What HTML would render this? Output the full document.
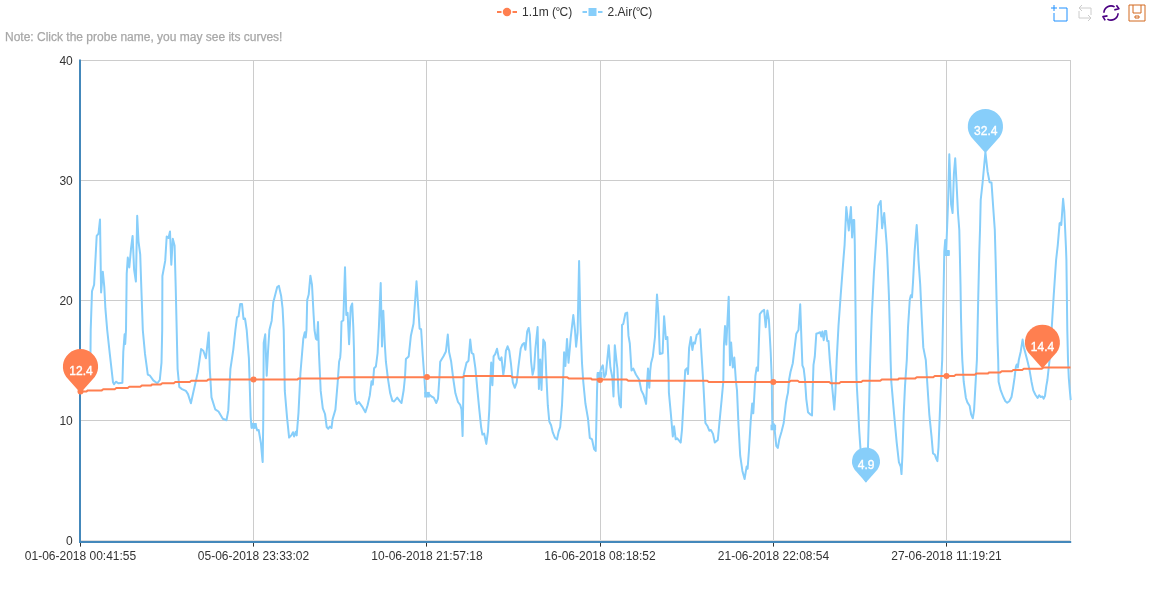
<!DOCTYPE html>
<html><head><meta charset="utf-8"><title>Chart</title>
<style>html,body{margin:0;padding:0;background:#fff;width:1150px;height:600px;overflow:hidden}</style></head>
<body>
<svg width="1150" height="600" viewBox="0 0 1150 600" style="position:absolute;left:0;top:0;font-family:'Liberation Sans',Arial,sans-serif;font-size:12px">
<rect x="80" y="60" width="991" height="1" fill="#ccc"/>
<rect x="80" y="180" width="991" height="1" fill="#ccc"/>
<rect x="80" y="300" width="991" height="1" fill="#ccc"/>
<rect x="80" y="420" width="991" height="1" fill="#ccc"/>
<rect x="253" y="60" width="1" height="481" fill="#ccc"/>
<rect x="426" y="60" width="1" height="481" fill="#ccc"/>
<rect x="600" y="60" width="1" height="481" fill="#ccc"/>
<rect x="773" y="60" width="1" height="481" fill="#ccc"/>
<rect x="946" y="60" width="1" height="481" fill="#ccc"/>
<rect x="1070" y="60" width="1" height="481" fill="#ccc"/>
<rect x="80" y="540" width="991" height="1" fill="#ddd"/>
<rect x="79" y="59.5" width="2" height="483.5" fill="#4488bb"/>
<rect x="79" y="541" width="992.2" height="2" fill="#4488bb"/>
<rect x="80" y="543" width="1" height="3.6" fill="#333"/>
<rect x="253" y="543" width="1" height="3.6" fill="#333"/>
<rect x="426" y="543" width="1" height="3.6" fill="#333"/>
<rect x="600" y="543" width="1" height="3.6" fill="#333"/>
<rect x="773" y="543" width="1" height="3.6" fill="#333"/>
<rect x="946" y="543" width="1" height="3.6" fill="#333"/>
<text x="72.8" y="64.8" text-anchor="end" fill="#333">40</text>
<text x="72.8" y="184.8" text-anchor="end" fill="#333">30</text>
<text x="72.8" y="304.8" text-anchor="end" fill="#333">20</text>
<text x="72.8" y="424.8" text-anchor="end" fill="#333">10</text>
<text x="72.8" y="544.8" text-anchor="end" fill="#333">0</text>
<text x="80.5" y="560" text-anchor="middle" fill="#333">01-06-2018 00:41:55</text>
<text x="253.5" y="560" text-anchor="middle" fill="#333">05-06-2018 23:33:02</text>
<text x="427" y="560" text-anchor="middle" fill="#333">10-06-2018 21:57:18</text>
<text x="600" y="560" text-anchor="middle" fill="#333">16-06-2018 08:18:52</text>
<text x="773.5" y="560" text-anchor="middle" fill="#333">21-06-2018 22:08:54</text>
<text x="946.5" y="560" text-anchor="middle" fill="#333">27-06-2018 11:19:21</text>
<polyline points="80.5,386 89.5,372 90.5,351 90.7,330 92,291.3 94.1,284.8 96.7,235.9 98.5,233.7 100,219.6 101.1,292.4 102.8,271.7 104.3,287 105.4,308.7 107.2,330 109.8,353.9 113,382.2 114.1,384.3 115.9,381.7 118.5,383.3 122.4,382.8 123.3,351.7 124.6,334.3 125.2,344 126,330 126.7,273.9 127.8,257.6 129.3,267.4 131.1,247.8 132.6,235.9 134.1,269.6 135.9,281.5 137.2,215.7 138.5,241.3 140.2,254.3 141.3,287 142.8,330 145,353.9 147.8,374.6 150,375.7 153.3,380.4 157.2,383.3 159.8,380 161.5,362.6 162.2,330 162.4,276 165.2,260.9 166.7,236.5 168.5,238 170,231.5 171.3,264.8 172.8,238.7 174.6,245.7 175.7,287 176.7,330 177.6,369.1 179.3,387 182,389.1 185.9,390.9 188,394.1 190.9,403.3 194.1,388.7 197.8,372.4 201.1,349.1 203.3,350.7 205.9,358.3 208.7,332.6 209.8,369.1 211.5,397.4 215.2,409.3 218.5,411.5 222.8,418.7 226.5,420.2 228.3,410.4 230.4,369.1 233.3,349.6 235.4,330 237,317.4 238.5,316.3 240.2,303.9 242,303.9 243.5,319 245,318.5 246.7,330 248.9,358.3 250.7,417 251.5,427.8 252.8,423.9 254.3,427.8 255.4,423.9 257.2,430.4 258.7,430 260.9,443 262.4,460 262.7,462 263.3,417 263.7,343 265.2,334.3 266.7,375.7 268,351.7 269.4,330 271.7,320.7 273.3,302.2 277.2,287 278.9,285.9 281.1,295.7 282.6,308.7 283.7,330 284.8,390.9 287,417 289.1,437.6 291.3,435.4 293,432.2 294.1,436.5 295.7,431.7 296.7,435.4 298.5,412.6 300.4,373.5 303.3,338.7 304.8,332.2 305.7,337.6 306.5,330 307.2,300 308.7,294.6 310.4,275.7 312,284.8 313.5,313 314.5,330 315.9,338.7 317,339.8 318,322 318.9,351.7 320.7,390.9 322.8,408.3 325,414 326.7,427 328.3,428.7 329.8,426.5 331.5,428 332.6,419.3 335.4,409.6 337.6,383.5 339.1,361.7 340.2,357.4 340.7,350.9 341.5,321.5 343.3,320.4 345,267.2 346.3,315 347.6,312.8 349.1,344.3 350.7,307.4 352.2,303.5 353.3,327 354,350 354.6,390 355.4,399.8 356.7,404.1 358.9,402 362,406.3 365.4,412.2 367.6,405.2 369.8,395.4 371.5,381.3 372.8,384.6 374.1,368.3 375.9,366.5 377.6,353 378.9,327 380.7,283 382,346.5 383.3,310.7 384.8,344.3 385.9,361.7 388,379.1 390.2,393.3 392.4,400.9 394.1,401.5 397.2,397.6 400,401.3 401.5,403 403.7,390 405,377 405.9,359.1 408.7,356.5 410.9,335.7 413.5,323.7 416.5,281.3 419.6,328.7 421.1,329.1 422.8,356 424.6,381.3 425.4,393.3 427,395 429.3,394.5 431.5,396.5 433.7,397.6 436.3,403 438,398.7 439.3,379.1 440.2,361.7 443.5,356.3 445.9,351.5 447.8,334.6 449.1,352 451.1,361.2 453.3,379.1 455.4,393.3 458,402 460.2,404.8 461.5,409.6 462.6,436.1 463.7,374.8 466.5,362.8 468.5,360.7 470.2,339.6 471.7,353 473.4,354.1 475.4,368.3 477.2,387.8 479.3,409.6 481.1,427 482.4,434.6 484.1,433.5 486.3,443.9 488,431.3 489.3,409.6 490.2,383.5 491.2,362.5 492.4,385.2 493.6,356.3 495.2,354.1 497,348.7 498.9,358.5 500.2,360.2 501.5,357.4 503.3,374.8 504.6,366.1 505.9,350.9 507.6,346.3 509.3,350.9 511,364 512.8,382.4 514.8,387.8 516.7,382.4 518.5,366.1 520.7,348.7 522.4,344.5 524.1,343 525.4,349.8 527.2,331.3 528.7,328 529.8,334.6 531.1,361.7 532.6,374.8 534.1,368.3 535.4,348.7 537.6,327 538.9,388.9 540.2,359.6 541.5,390 542.4,361.7 543.3,339.6 545,342.8 546.3,374.8 547.8,405.2 549.3,421.5 551.1,425.2 552.8,432.4 555,437.8 557,439.6 558.7,431.3 560.2,427 562,405.2 563,383.5 564.1,352.3 565.4,366 567,338.9 568.5,362.8 569.8,348.7 570.7,337.8 573.3,315 575,330.4 576.1,346.7 577.6,332.6 579.1,260.9 580.4,321.7 582,363 583.3,382 585.4,403.5 588,418.7 589.8,437.8 592,439.3 594.1,449.1 595.7,450.9 596.3,425.2 597,392.6 597.6,374 599.6,375 601.1,368.6 602.8,365.3 604.3,377.3 605.9,374 608.7,345.2 610.4,367.5 612.4,377.8 613.5,396.5 614.1,370.9 614.8,345.2 616.7,363 617.4,368.7 618.5,392.6 619.6,404.6 620.9,407.4 621.5,381.7 622,325 623.3,323.9 625.4,313.5 627.2,312.6 628.5,335.9 629.8,343.5 631.5,370.5 633.3,368.6 635.9,374.5 639.1,379.5 641.3,390.4 643.5,394.8 646.1,403.9 647.2,381 648,368.6 649.3,387.8 650.2,370.9 651.1,363 652.8,356.5 655,337 657,294.6 658.3,313 659.8,353.9 662.6,353.3 664.1,316.3 665.9,339.1 667.4,337 668.5,363 668.9,392.6 670.7,412.2 672.8,436.5 674.1,426.3 675.7,439.3 677.2,438.3 678.9,440.4 680.7,442.6 682,429.6 683.7,399.1 685.2,370.2 687,368.2 688,374 689.1,347.8 690.9,337 692.4,350 693.7,342.4 695,343.5 696.7,334.8 698.3,333.7 700,329.3 701.5,354.3 703.3,383 705.4,423 707.6,426.3 709.3,430.7 710.9,430 713,433.9 714.8,442.6 717.8,440 719.6,420.9 721.7,399.1 723.3,381.7 723.9,345.7 725,326.1 726.3,344.6 728.7,296.7 730,365.3 731.1,342.4 732.8,367.5 734.3,357.6 735.9,381 737,390.4 738.5,425.2 740.2,455.7 742.4,470.9 744.6,479.1 745.9,470.9 746.7,466.5 747.6,468.7 748.9,451.3 750.7,420.9 752.2,403.5 753.3,413.3 754.1,399.1 755.4,376 756.7,367.5 758,370.8 759.8,314.1 762,311.3 764.1,309.8 765.7,327.2 767.4,310.4 768.9,319.6 770.7,352.2 771.8,380 772,403.5 772.4,427.4 773.9,424.1 774.6,429.1 776.3,445.9 777.8,448 779.3,439.3 781.5,431.7 783.7,423 785.9,403.5 787,397 788,392.6 789.1,379.8 790.5,372 792.8,363.2 794.6,347.8 796.3,333.7 798.5,330 800.2,304.3 801.5,341.3 802.4,365.3 803.7,368.6 805,379.8 806.3,399.1 808,412.2 810.2,414.3 812,415.4 812.6,392.6 813.5,364.8 814.8,356.5 816.3,333.7 818.5,333 820.2,332.2 821.3,336.5 822.4,331.5 823.7,340.2 825,331 826.2,331.1 827.2,340.9 828.5,340.9 829.8,360 831.5,379.6 833.3,399.1 834.3,409.6 835.4,392.6 836.7,360 838.5,325.7 840.7,295.2 843.5,258.3 844.6,244.8 846.3,207 848.8,230.4 850.9,207 852.1,237.5 853.3,220 854.2,220 854.8,245 855.1,273.5 855.6,317 856.1,360 856.6,381.7 857.8,403.5 859.3,431.7 860.5,449 862,470 864,478 865.9,481.2 867,470 868,447 868.9,414.3 869.6,381.7 870.2,360 871.7,317 873.9,273.5 875.8,244.8 878.3,205.8 880.7,201 882.1,228.3 884.2,212.9 886.7,244.8 887.4,258.3 888.9,295.2 890,334.3 890.6,360 891.3,381.7 894.1,414.3 896.7,442.6 898.9,462.2 900.7,466.5 901.5,474.1 902.4,455.7 903.7,414.3 905,386.1 906.8,360 908,327.8 909.8,299.6 910.9,295.2 912,297.4 913,282.2 914.6,251.7 916.3,230 916.7,225 917.4,236.5 918.5,260.4 920.2,284.3 921.7,317 923.3,347.4 925,356.1 925.8,360 927.2,381.7 929.3,414.3 931.5,436.1 933,453.5 934.8,454.6 936.3,458.9 937.4,461.1 938.5,447 939.8,414.3 941.1,381.7 942.2,360 943.5,295.2 944.3,251.7 945.2,240 945.6,255 948.6,255 948.6,251 946.2,251 948,204.3 949.3,154.3 951.1,204.3 952.6,213 953.9,173.9 955.2,158.3 956.5,182.6 958,213 959.3,230 959.8,251.7 960.5,284.3 961,317 961.8,347.4 962.3,360 963.7,381.7 965.9,398 967.4,402.4 969.6,405.7 971.1,414.3 972.8,418.3 974.1,410 975.4,386.1 976.9,360 978.3,295.2 979.3,251.7 980,230 980.7,200 982.6,182.6 985.4,152.2 987.6,171.7 989.6,182.2 991.5,182.6 993.3,208.7 994.8,230 995.7,262.6 996.7,306.1 997.6,343 998.2,360 998.6,381.7 1000.7,390.4 1003.3,397 1005.4,401.3 1007.2,402.8 1009.3,401.3 1011.5,397 1013,388.3 1014.6,377.4 1015.9,366.5 1016.7,364.5 1017.8,367.5 1018.8,360 1020.7,351.7 1022.6,339.6 1023.9,347.4 1027.2,360 1029.3,368.7 1031.5,381.7 1033.3,390.4 1035.4,394.8 1037.6,398 1039.1,395.2 1040.7,397 1042.4,396.5 1043.7,398.7 1045,395.9 1046.3,386.1 1047.4,380 1049.5,360.5 1051.8,326.5 1053.75,295 1056.1,260 1057.8,244.8 1059.6,223.3 1060.4,222.7 1061.3,225 1063.1,198.8 1064.3,211 1065.1,228.5 1066,248.3 1066.4,260 1066.7,283.3 1067,306.7 1067.3,330 1068,360 1068.8,378 1069.6,388 1070.7,400.2" fill="none" stroke="#87cefa" stroke-width="2" stroke-linejoin="round"/>
<polyline points="80.50,391.60 86.25,391.60 87.75,390.40 101.75,390.40 103.25,389.20 114.75,389.20 116.25,388.00 127.75,388.00 129.25,386.80 140.25,386.80 141.75,385.60 150.75,385.60 152.25,384.40 160.75,384.40 162.25,383.20 173.75,383.20 175.25,382.00 189.75,382.00 191.25,380.80 206.75,380.80 208.25,379.60 297.25,379.60 298.75,378.40 338.25,378.40 339.75,377.20 462.75,377.20 464.25,376.00 510.75,376.00 512.25,377.20 567.25,377.20 568.75,378.40 590.75,378.40 592.25,379.60 626.75,379.60 628.25,380.80 707.25,380.80 708.75,382.00 789.25,382.00 790.75,380.80 797.75,380.80 799.25,382.00 829.25,382.00 830.75,383.20 839.25,383.20 840.75,382.00 861.25,382.00 862.75,380.80 880.25,380.80 881.75,379.60 897.75,379.60 899.25,378.40 915.25,378.40 916.75,377.20 933.25,377.20 934.75,376.00 954.25,376.00 955.75,374.80 974.75,374.80 976.25,373.60 987.75,373.60 989.25,372.40 1000.25,372.40 1001.75,371.20 1011.75,371.20 1013.25,370.00 1022.25,370.00 1023.75,368.80 1041.75,368.80 1043.25,367.60 1070.50,367.60" fill="none" stroke="#ff7f50" stroke-width="2" stroke-linejoin="round"/>
<circle cx="80.5" cy="391.5" r="3" fill="#ff7f50"/>
<circle cx="253.5" cy="379.6" r="3" fill="#ff7f50"/>
<circle cx="427" cy="377" r="3" fill="#ff7f50"/>
<circle cx="600" cy="380" r="3" fill="#ff7f50"/>
<circle cx="773.3" cy="382" r="3" fill="#ff7f50"/>
<circle cx="946.5" cy="375.9" r="3" fill="#ff7f50"/>
<rect x="251.0" y="423.0" width="5.6" height="5.6" fill="#87cefa"/>
<rect x="424.2" y="391.9" width="5.6" height="5.6" fill="#87cefa"/>
<rect x="596.8000000000001" y="372.0" width="5.6" height="5.6" fill="#87cefa"/>
<rect x="770.5" y="424.7" width="5.6" height="5.6" fill="#87cefa"/>
<rect x="944.0" y="250.2" width="5.6" height="5.6" fill="#87cefa"/>
<path d="M66.26,377.05 A17.6,17.6 0 1 1 94.74,377.05 L80.5,393.10 Z" fill="#ff7f50"/>
<text x="81" y="375" text-anchor="middle" fill="#fff" stroke="#fff" stroke-width="0.35">12.4</text>
<path d="M1028.24,352.49 A17.5,17.5 0 1 1 1056.56,352.49 L1042.4,368.45 Z" fill="#ff7f50"/>
<text x="1042.5" y="351" text-anchor="middle" fill="#fff" stroke="#fff" stroke-width="0.35">14.4</text>
<path d="M971.16,136.95 A17.6,17.6 0 1 1 999.64,136.95 L985.4,153.00 Z" fill="#87cefa"/>
<text x="985.8" y="134.8" text-anchor="middle" fill="#fff" stroke="#fff" stroke-width="0.35">32.4</text>
<path d="M854.67,469.73 A14,14 0 1 1 877.33,469.73 L866,482.50 Z" fill="#87cefa"/>
<text x="866.2" y="469" text-anchor="middle" fill="#fff" stroke="#fff" stroke-width="0.35">4.9</text>
<g stroke="#ff7f50" stroke-width="2" fill="#ff7f50"><line x1="497" y1="12" x2="501.5" y2="12"/><line x1="512.5" y1="12" x2="517" y2="12"/><circle cx="507" cy="12" r="3.2"/></g>
<text x="522" y="16.3" fill="#333">1.1m (<tspan dx="-0.5">°</tspan><tspan dx="-0.8">C)</tspan></text>
<g stroke="#87cefa" stroke-width="2" fill="#87cefa"><line x1="582.5" y1="12" x2="587" y2="12"/><line x1="598" y1="12" x2="602.5" y2="12"/><rect x="589.5" y="9" width="6" height="6"/></g>
<text x="607.5" y="16.3" fill="#333">2.Air(<tspan dx="-0.5">°</tspan><tspan dx="-0.8">C)</tspan></text>
<text x="5" y="41.3" fill="#a6a6a6" stroke="#aaa" stroke-width="0.25">Note: Click the probe name, you may see its curves!</text>
<path d="M1051,8 L1057,8 M1054,5 L1054,11 M1054,13 L1054,21 L1067,21 L1067,8 L1059,8" fill="none" stroke="#1e90ff" stroke-width="1"/>
<path d="M1082,5 L1079,8 L1082,11 M1079,8 L1091,8 L1091,15 M1088,15 L1091,18 L1088,21 M1091,18 L1079,18 L1079,11" fill="none" stroke="#ccc" stroke-width="1"/>
<path d="M1103.9,12.7 A7.1,7.1 0 0 1 1114.6,6.9 M1116.4,5.2 L1118.9,8.8 L1114.3,9.9 M1118.1,13.3 A7.1,7.1 0 0 1 1107.4,19.1 M1105.2,20.4 L1102.9,16.6 L1107.5,15.9" fill="none" stroke="#4b0082" stroke-width="1.6" stroke-linejoin="round"/>
<path d="M1129,5 L1145,5 L1145,21 L1129,21 Z M1133,5 L1133,13 L1141,13 L1141,5 M1135,16 L1135,18 L1139,18 L1139,16 Z" fill="none" stroke="#d2691e" stroke-width="1"/>
</svg>
</body></html>
